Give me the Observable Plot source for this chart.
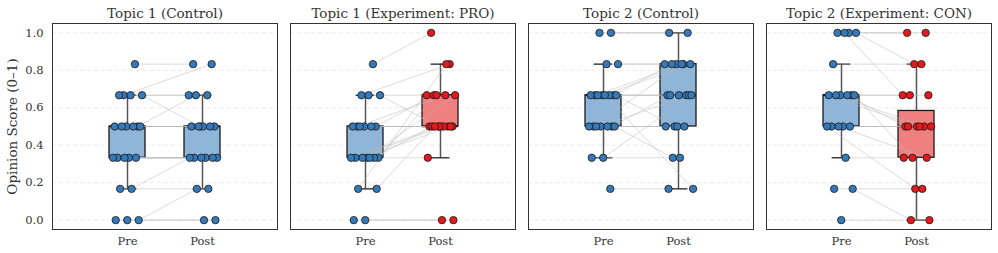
<!DOCTYPE html>
<html>
<head>
<meta charset="utf-8">
<script src="https://cdn.jsdelivr.net/npm/d3@7"></script>
<script src="https://cdn.jsdelivr.net/npm/@observablehq/plot@0.6"></script>
<style>
  body { margin: 0; background: #fff; }
</style>
</head>
<body>
<div id="chart"></div>
<script>
// ---- data ----
const panels = ["Topic 1 (Control)", "Topic 1 (Experiment: PRO)", "Topic 2 (Control)", "Topic 2 (Experiment: CON)"];
const phases = ["Pre", "Post"];
const yTicks = [0, 0.2, 0.4, 0.6, 0.8, 1.0];

// paired participant scores, one array per panel and phase
const t1ControlPre  = [0.833, 0.667, 0.667, 0.667, 0.667, 0.5, 0.5, 0.5, 0.5, 0.5, 0.5, 0.333, 0.333, 0.333, 0.333, 0.333, 0.167, 0.167, 0, 0, 0];
const t1ControlPost = [0.833, 0.833, 0.5, 0.667, 0.667, 0.667, 0.5, 0.5, 0.5, 0.5, 0.5, 0.333, 0.333, 0.333, 0.333, 0.333, 0.333, 0.167, 0.167, 0, 0];
const t1ProPre      = [0.833, 0.667, 0.667, 0.667, 0.5, 0.5, 0.5, 0.5, 0.5, 0.5, 0.333, 0.333, 0.333, 0.333, 0.333, 0.333, 0.333, 0.167, 0.167, 0, 0];
const t1ProPost     = [1.0, 0.833, 0.5, 0.667, 0.667, 0.667, 0.5, 0.5, 0.5, 0.5, 0.667, 0.667, 0.5, 0.5, 0.5, 0.5, 0.333, 0.833, 0.5, 0, 0];
const t2ControlPre  = [1, 1, 0.833, 0.833, 0.667, 0.667, 0.667, 0.667, 0.667, 0.667, 0.667, 0.667, 0.5, 0.5, 0.5, 0.5, 0.5, 0.5, 0.5, 0.333, 0.333, 0.167];
const t2ControlPost = [1, 1, 0.833, 0.833, 0.833, 0.833, 0.833, 0.667, 0.667, 0.667, 0.5, 0.167, 0.833, 0.667, 0.667, 0.5, 0.5, 0.5, 0.333, 0.667, 0.333, 0.167];
const t2ConPre      = [1, 1, 1, 1, 0.833, 0.667, 0.667, 0.667, 0.667, 0.667, 0.667, 0.5, 0.5, 0.5, 0.5, 0.5, 0.333, 0.167, 0.167, 0];
const t2ConPost     = [1, 1, 0.833, 0.667, 0.833, 0.667, 0.667, 0.5, 0.5, 0.5, 0.333, 0.5, 0.5, 0.5, 0.333, 0.167, 0.333, 0.167, 0, 0];

// box statistics, order: P1 Pre, P1 Post, P2 Pre, P2 Post, P3 Pre, P3 Post, P4 Pre, P4 Post
const boxLow  = [0.167, 0.167, 0.167, 0.333, 0.333, 0.167, 0.333, 0];
const boxQ1   = [0.333, 0.333, 0.333, 0.5, 0.5, 0.5, 0.5, 0.333];
const boxMed  = [0.5, 0.5, 0.333, 0.5, 0.667, 0.667, 0.667, 0.5];
const boxQ3   = [0.5, 0.5, 0.5, 0.667, 0.667, 0.833, 0.667, 0.583];
const boxHigh = [0.667, 0.667, 0.667, 0.833, 0.833, 1.0, 0.833, 0.833];

// ---- styling ----
const BLUE_PT = "#3579b9", BLUE_BOX = "#8fb6d8";
const RED_PT = "#e3191c", RED_BOX = "#f08080";
const isExperiment = [false, true, false, true];

const series = [
  [t1ControlPre, t1ControlPost],
  [t1ProPre, t1ProPost],
  [t2ControlPre, t2ControlPost],
  [t2ConPre, t2ConPost]
];

// deterministic strip jitter (golden-ratio sequence), in x units
const G = 0.6180339887;
const jit = (i, s) => ((((i + 1) * G + s) % 1) - 0.5) * 0.4;

const points = [], links = [];
series.forEach(([pre, post], p) => {
  pre.forEach((v, i) => {
    const xa = 0 + jit(i, 0.13), xb = 1 + jit(i, 0.57);
    const postColor = isExperiment[p] ? RED_PT : BLUE_PT;
    points.push({fx: panels[p], x: xa, y: v, color: BLUE_PT});
    points.push({fx: panels[p], x: xb, y: post[i], color: postColor});
    links.push({fx: panels[p], x1: xa, y1: v, x2: xb, y2: post[i]});
  });
});

const boxes = boxLow.map((lo, k) => {
  const p = Math.floor(k / 2), ph = k % 2;
  return {
    fx: panels[p], x: ph, lo, q1: boxQ1[k], med: boxMed[k], q3: boxQ3[k], hi: boxHigh[k],
    fill: (ph === 1 && isExperiment[p]) ? RED_BOX : BLUE_BOX
  };
});

const BW = 0.24, CW = 0.125;

const chart = Plot.plot({
  width: 998,
  height: 253,
  marginTop: 23,
  marginBottom: 24,
  marginLeft: 52,
  marginRight: 7,
  style: {fontFamily: "DejaVu Serif", fontSize: "11px", color: "#333", background: "#fff"},
  fx: {domain: panels, paddingInner: 13 / 238, paddingOuter: 0},
  x: {domain: [-1, 2]},
  y: {domain: [-0.05, 1.05]},
  color: {type: "identity"},
  marks: [
    Plot.gridY(yTicks, {stroke: "#e2e2e2", strokeOpacity: 1, strokeDasharray: "4,3", strokeWidth: 0.7}),
    Plot.axisFx({anchor: "top", label: null, tickSize: 0, tickPadding: 6, fontSize: 13.5}),
    Plot.axisX({ticks: [0, 1], tickFormat: d => phases[d], tickSize: 0, tickPadding: 7, label: null, fontSize: 11.5}),
    Plot.axisY({ticks: yTicks, tickFormat: d3.format(".1f"), tickSize: 0, tickPadding: 9, label: null, fontSize: 11.5}),
    Plot.text([panels[0]], {fx: d => d, text: () => "Opinion Score (0–1)", frameAnchor: "left", rotate: -90, dx: -40, textAnchor: "middle", fontSize: 13.5, fill: "#333"}),
    // whiskers
    Plot.ruleX(boxes, {fx: "fx", x: "x", y1: "lo", y2: "q1", stroke: "#555", strokeWidth: 1.5}),
    Plot.ruleX(boxes, {fx: "fx", x: "x", y1: "q3", y2: "hi", stroke: "#555", strokeWidth: 1.5}),
    Plot.ruleY(boxes, {fx: "fx", y: "lo", x1: d => d.x - CW, x2: d => d.x + CW, stroke: "#222", strokeWidth: 1.3}),
    Plot.ruleY(boxes, {fx: "fx", y: "hi", x1: d => d.x - CW, x2: d => d.x + CW, stroke: "#222", strokeWidth: 1.3}),
    // boxes
    Plot.rect(boxes, {fx: "fx", x1: d => d.x - BW, x2: d => d.x + BW, y1: "q1", y2: "q3", fill: "fill", stroke: "#1a1a1a", strokeWidth: 1.3}),
    Plot.ruleY(boxes, {fx: "fx", y: "med", x1: d => d.x - BW, x2: d => d.x + BW, stroke: "#1a1a1a", strokeWidth: 1.3}),
    // paired lines
    Plot.link(links, {fx: "fx", x1: "x1", y1: "y1", x2: "x2", y2: "y2", stroke: "#b8b8b8", strokeOpacity: 0.55, strokeWidth: 0.9}),
    // points
    Plot.dot(points, {fx: "fx", x: "x", y: "y", r: 3.7, fill: "color", stroke: "#1a1a1a", strokeWidth: 0.8}),
    Plot.frame({stroke: "#333", strokeWidth: 1})
  ]
});
document.getElementById("chart").appendChild(chart);
</script>
</body>
</html>
